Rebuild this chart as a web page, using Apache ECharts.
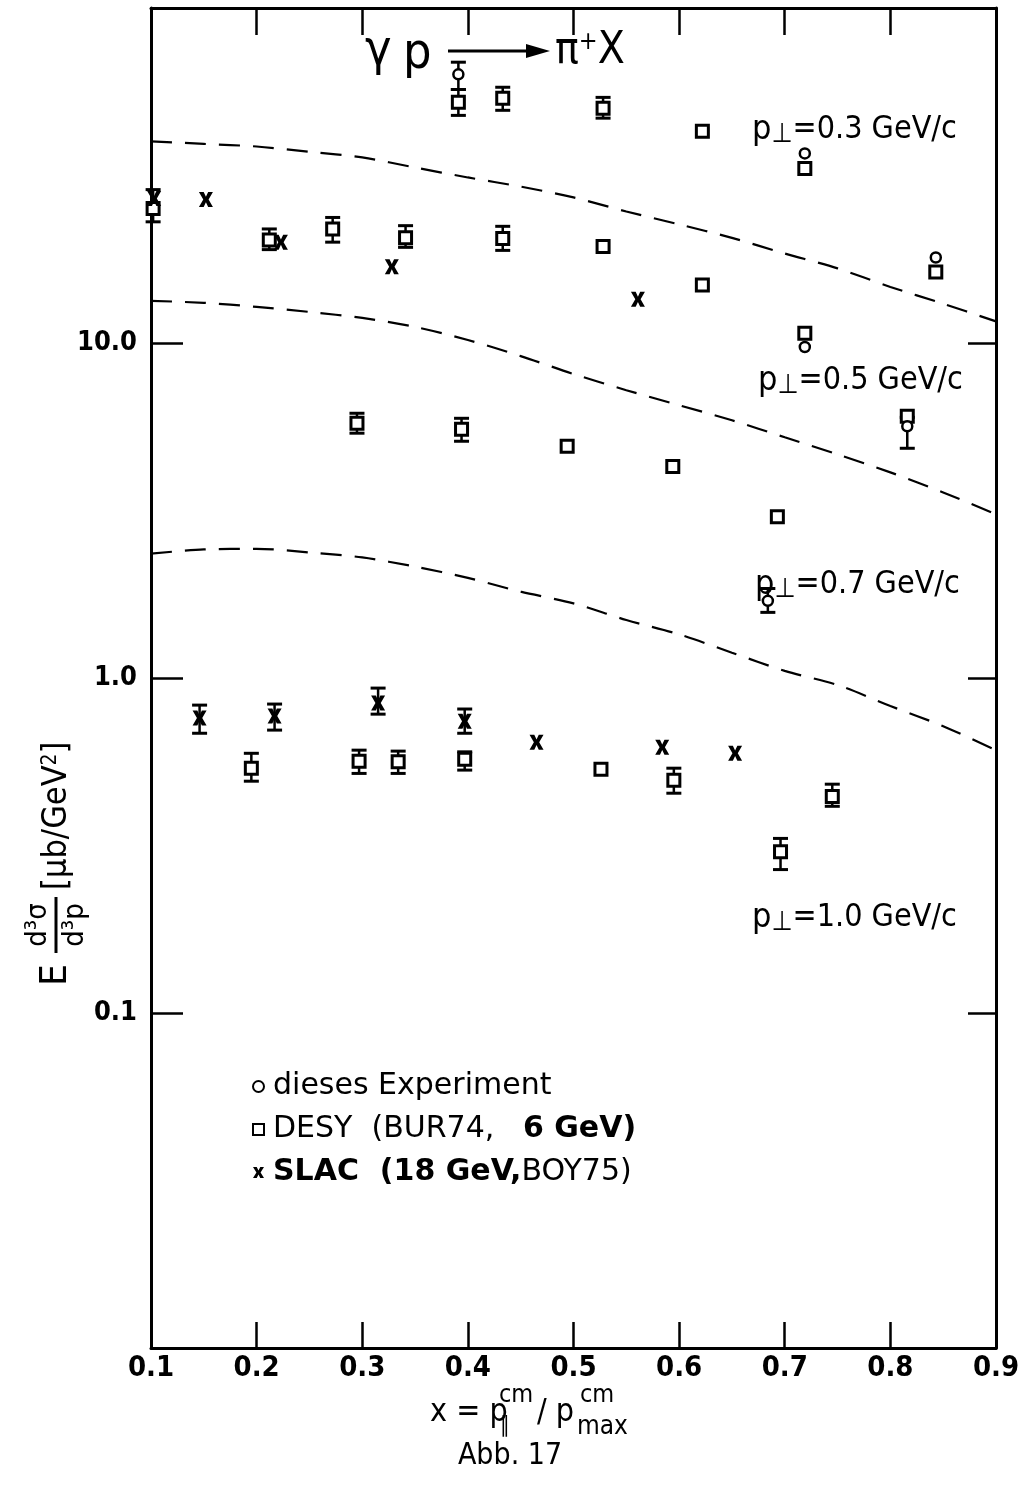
<!DOCTYPE html>
<html>
<head>
<meta charset="utf-8">
<script src="https://cdn.jsdelivr.net/npm/echarts@6/dist/echarts.min.js"></script>
<style>
  html, body { margin: 0; padding: 0; background: #fff; }
  #chart { width: 1028px; height: 1485px; }
</style>
</head>
<body>
<div id="chart"></div>
<script>
const FONT = "'DejaVu Sans Condensed', 'Liberation Sans Narrow', 'DejaVu Sans', sans-serif";
const FONT_WIDE = "'DejaVu Sans', sans-serif";

// ---- axis ticks ----
const xTickValues = [0.1, 0.2, 0.3, 0.4, 0.5, 0.6, 0.7, 0.8, 0.9];
const yTickLabels = { '10': '10.0', '1': '1.0', '0.1': '0.1' };

// ---- DESY (BUR74, 6 GeV): squares, rows p⊥ = 0.3, 0.5, 0.7, 1.0 GeV/c ----
const desyX  = [0.391, 0.433, 0.528, 0.622, 0.719, 0.843,
                0.102, 0.212, 0.272, 0.341, 0.433, 0.528, 0.622, 0.719, 0.816,
                0.295, 0.394, 0.494, 0.594, 0.693,
                0.195, 0.297, 0.334, 0.397, 0.526, 0.595, 0.696, 0.745];
const desyY  = [52.3, 53.8, 50.2, 42.9, 33.2, 16.3,
                25.2, 20.3, 21.9, 20.6, 20.5, 19.4, 14.9, 10.7, 6.04,
                5.76, 5.53, 4.92, 4.28, 3.03,
                0.538, 0.564, 0.562, 0.572, 0.534, 0.495, 0.303, 0.443];
const desyLo = [47.8, 49.5, 46.9, null, null, null,
                23.0, 19.0, 20.0, 19.3, 18.9, null, null, null, null,
                5.38, 5.09, null, null, null,
                0.492, 0.519, 0.519, 0.531, null, 0.453, 0.268, 0.414];
const desyHi = [57.1, 58.0, 54.1, null, null, null,
                28.7, 21.9, 23.7, 22.4, 22.3, null, null, null, null,
                6.17, 5.96, null, null, null,
                0.596, 0.609, 0.605, 0.602, null, 0.538, 0.332, 0.482];

// ---- SLAC (18 GeV, BOY75): crosses ----
const slacX  = [0.103, 0.152, 0.223, 0.328, 0.561,
                0.146, 0.217, 0.315, 0.397, 0.465, 0.584, 0.653];
const slacY  = [27.0, 26.8, 20.0, 16.9, 13.5,
                0.759, 0.770, 0.842, 0.743, 0.643, 0.621, 0.596];
const slacLo = [null, null, null, null, null,
                0.684, 0.699, 0.780, 0.684, null, null, null];
const slacHi = [null, null, null, null, null,
                0.830, 0.836, 0.933, 0.808, null, null, null];

// ---- dieses Experiment: open circles ----
const expX  = [0.391, 0.719, 0.843, 0.719, 0.816, 0.684];
const expY  = [63.4, 36.8, 18.0, 9.73, 5.64, 1.70];
const expLo = [57.1, null, null, null, 4.85, 1.57];
const expHi = [68.9, null, null, null, 6.00, 1.85];

// ---- dashed model curves ----
const curveX      = [0.10, 0.15, 0.20, 0.25, 0.30, 0.35, 0.40, 0.45, 0.50,
                     0.55, 0.60, 0.65, 0.70, 0.75, 0.80, 0.85, 0.90];
const curveUpper  = [40.0, 39.3, 38.6, 37.2, 35.8, 33.4, 31.2, 29.3, 27.2,
                     24.7, 22.6, 20.6, 18.5, 16.7, 14.7, 13.1, 11.6];
const curveMiddle = [13.36, 13.18, 12.82, 12.38, 11.88, 11.17, 10.21, 9.14, 8.08,
                     7.23, 6.52, 5.88, 5.23, 4.65, 4.11, 3.58, 3.08];
const curveLower  = [2.35, 2.42, 2.43, 2.37, 2.29, 2.15, 1.99, 1.81, 1.67,
                     1.49, 1.35, 1.19, 1.05, 0.953, 0.825, 0.718, 0.609];

// ---- text ----
const legendText = {
  'dieses Experiment': 'dieses Experiment',
  'DESY': 'DESY  (BUR74,   {b|6 GeV)}',
  'SLAC': '{b|SLAC  (18 GeV,}BOY75)'
};
const ptLabels = [
  { text: '0.3 GeV/c', x: 752, y: 130 },
  { text: '0.5 GeV/c', x: 758, y: 381 },
  { text: '0.7 GeV/c', x: 755, y: 585 },
  { text: '1.0 GeV/c', x: 752, y: 918 }
];

// build helpers
const zip = (xs, ys) => xs.map((x, i) => [x, ys[i]]);
const bars = (xs, lo, hi) => xs.map((x, i) => lo[i] == null ? null : [x, lo[i], hi[i]]).filter(d => d);

const errData = [].concat(bars(desyX, desyLo, desyHi), bars(slacX, slacLo, slacHi), bars(expX, expLo, expHi));

function errorBarItem(params, api) {
  const x = api.value(0);
  const pLo = api.coord([x, api.value(1)]);
  const pHi = api.coord([x, api.value(2)]);
  const w = 7.5;
  const st = { stroke: '#000', lineWidth: 3, fill: null };
  return {
    type: 'group',
    children: [
      { type: 'line', shape: { x1: pLo[0], y1: pLo[1], x2: pHi[0], y2: pHi[1] }, style: { stroke: '#000', lineWidth: 2.5 } },
      { type: 'line', shape: { x1: pLo[0] - w, y1: pLo[1], x2: pLo[0] + w, y2: pLo[1] }, style: st },
      { type: 'line', shape: { x1: pHi[0] - w, y1: pHi[1], x2: pHi[0] + w, y2: pHi[1] }, style: st }
    ]
  };
}

const crossPath = 'path://M0,0 L3.4,0 L5,3.2 L6.6,0 L10,0 L6.9,5 L10,10 L6.6,10 L5,6.8 L3.4,10 L0,10 L3.1,5 Z';

const dashed = { color: '#000', width: 2.2, type: [21, 13] };
function curve(name, ys) {
  return {
    type: 'line', name: name, data: zip(curveX, ys), smooth: 0.3, symbol: 'none',
    lineStyle: dashed, silent: true, z: 1, xAxisIndex: 0, yAxisIndex: 0
  };
}

const axisLine = { show: true, onZero: false, lineStyle: { color: '#000', width: 3 } };

const txt = (text, x, y, size, extra) => ({
  type: 'text', x: x, y: y,
  style: Object.assign({ text: text, fontSize: size, fontFamily: FONT, fill: '#000',
                         align: 'left', verticalAlign: 'middle' }, extra || {})
});

const graphics = [
  // reaction
  txt('γ', 365, 52, 50),
  txt('p', 403, 55, 50),
  { type: 'line', shape: { x1: 448, y1: 51, x2: 530, y2: 51 }, style: { stroke: '#000', lineWidth: 3 } },
  { type: 'polygon', shape: { points: [[526, 44], [550, 51], [526, 58]] }, style: { fill: '#000' } },
  {
    type: 'text', x: 555, y: 52,
    style: { text: 'π{s|+}X', fontSize: 44, fontFamily: FONT, fill: '#000', verticalAlign: 'middle',
             rich: { s: { fontSize: 25, fontFamily: FONT, verticalAlign: 'top' } } }
  },
  // axis titles
  {
    type: 'group', x: 56, y: 845, rotation: Math.PI / 2,
    children: [
      txt('E', -130, 0, 38, { align: 'center' }),
      txt('d³σ', -80, -18, 29, { align: 'center' }),
      { type: 'line', shape: { x1: -108, y1: 0, x2: -52, y2: 0 }, style: { stroke: '#000', lineWidth: 3 } },
      txt('d³p', -80, 19, 29, { align: 'center' }),
      {
        type: 'text', x: -45, y: 1,
        style: { text: '[μb/GeV{s|2}]', fontSize: 34, fontFamily: FONT, fill: '#000', verticalAlign: 'middle',
                 rich: { s: { fontSize: 21, fontFamily: FONT, verticalAlign: 'top' } } }
      }
    ]
  },
  txt('x = p', 430, 1413, 32),
  txt('cm', 499, 1395, 25),
  txt('∥', 500, 1426, 22),
  txt('/ p', 537, 1413, 32),
  txt('cm', 580, 1395, 25),
  txt('max', 577, 1427, 26),
  txt('Abb. 17', 510, 1456, 30, { align: 'center' })
].concat(ptLabels.map(p => ({
  type: 'text', x: p.x, y: p.y,
  style: {
    text: '{p|p}{q|⊥}{r|=' + p.text + '}', fontFamily: FONT, fill: '#000', verticalAlign: 'middle',
    rich: {
      p: { fontSize: 34, fontFamily: FONT },
      q: { fontSize: 27, fontFamily: FONT, padding: [9, 0, 0, 0] },
      r: { fontSize: 32, fontFamily: FONT }
    }
  }
})));

const chart = echarts.init(document.getElementById('chart'), null, { renderer: 'canvas' });
chart.setOption({
  backgroundColor: '#fff',
  animation: false,
  grid: { left: 151, right: 32, top: 8, bottom: 137, containLabel: false },
  xAxis: [
    {
      type: 'value', min: 0.1, max: 0.9, interval: 0.1, position: 'bottom',
      axisLine: axisLine,
      axisTick: { inside: true, length: 26, lineStyle: { color: '#000', width: 2.5 } },
      axisLabel: { fontSize: 29, fontFamily: FONT, fontWeight: 'bold', color: '#000', margin: 6,
                   formatter: v => xTickValues.some(t => Math.abs(t - v) < 1e-6) ? v.toFixed(1) : '' },
      splitLine: { show: false }
    },
    {
      type: 'value', min: 0.1, max: 0.9, interval: 0.1, position: 'top',
      axisLine: axisLine,
      axisTick: { inside: true, length: 27, lineStyle: { color: '#000', width: 2.5 } },
      axisLabel: { show: false }, splitLine: { show: false }
    }
  ],
  yAxis: [
    {
      type: 'log', logBase: 10, min: 0.01, max: 100, position: 'left',
      axisLine: axisLine,
      axisTick: { inside: true, length: 32, lineStyle: { color: '#000', width: 2.5 } },
      axisLabel: { fontSize: 27, fontFamily: FONT, fontWeight: 'bold', color: '#000', margin: 14,
                   formatter: v => { const k = String(+v.toPrecision(6)); return yTickLabels[k] || ''; } },
      splitLine: { show: false }
    },
    {
      type: 'log', logBase: 10, min: 0.01, max: 100, position: 'right',
      axisLine: axisLine,
      axisTick: { inside: true, length: 28, lineStyle: { color: '#000', width: 2.5 } },
      axisLabel: { show: false }, splitLine: { show: false }
    }
  ],
  legend: {
    orient: 'vertical', left: 247, top: 1066, itemGap: 12, itemWidth: 11, itemHeight: 11,
    data: ['dieses Experiment', 'DESY', 'SLAC'],
    formatter: n => legendText[n],
    textStyle: {
      fontSize: 30, fontFamily: FONT_WIDE, color: '#000', lineHeight: 31, padding: [0, 0, 0, 4],
      rich: { b: { fontSize: 30, fontFamily: FONT_WIDE, fontWeight: 'bold', lineHeight: 31 } }
    },
    selectedMode: false
  },
  series: [
    curve('curveUpper', curveUpper),
    curve('curveMiddle', curveMiddle),
    curve('curveLower', curveLower),
    {
      type: 'custom', name: 'errors', renderItem: errorBarItem, data: errData,
      encode: { x: 0, y: [1, 2] }, silent: true, z: 2
    },
    {
      type: 'scatter', name: 'DESY', data: zip(desyX, desyY), symbol: 'rect', symbolSize: 12,
      itemStyle: { color: '#fff', borderColor: '#000', borderWidth: 3, opacity: 1 }, z: 3
    },
    {
      type: 'scatter', name: 'dieses Experiment', data: zip(expX, expY), symbol: 'circle', symbolSize: 10,
      itemStyle: { color: '#fff', borderColor: '#000', borderWidth: 2.5, opacity: 1 }, z: 4
    },
    {
      type: 'scatter', name: 'SLAC', data: zip(slacX, slacY), symbol: crossPath, symbolSize: [14, 15],
      itemStyle: { color: '#000', opacity: 1 }, z: 4
    }
  ],
  graphic: graphics
});
</script>
</body>
</html>
